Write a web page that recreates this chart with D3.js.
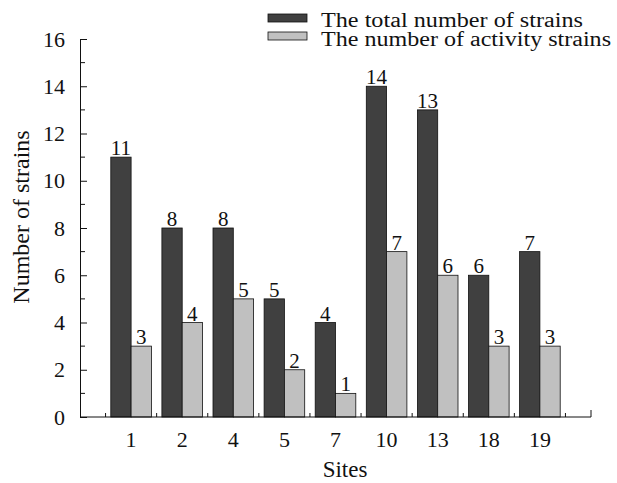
<!DOCTYPE html>
<html>
<head>
<meta charset="utf-8">
<script src="https://cdn.jsdelivr.net/npm/d3@7"></script>
<style>
  body { margin: 0; background: #fff; }
  svg, svg text { font-family: "Times New Roman", "Liberation Serif", Times, serif; }
  svg text { fill: #111; }
</style>
</head>
<body>
<script>
const sites = ["1", "2", "4", "5", "7", "10", "13", "18", "19"];
const totalStrains = [11, 8, 8, 5, 4, 14, 13, 6, 7];
const activityStrains = [3, 4, 5, 2, 1, 7, 6, 3, 3];
const seriesNames = ["The total number of strains", "The number of activity strains"];
const seriesColors = ["#404040", "#c0c0c0"];
const yTicks = [0, 2, 4, 6, 8, 10, 12, 14, 16];

const width = 617, height = 483;
const margin = {left: 80, right: 26, top: 39, bottom: 66};
const serif = "'Times New Roman', 'Liberation Serif', Times, serif";

const svg = d3.select("body").append("svg")
  .attr("width", width).attr("height", height)
  .attr("font-family", serif);

// positions 0..10 along the axis, sites sit on 1..9
const x = d3.scaleLinear().domain([0, 10]).range([margin.left, width - margin.right]);
const y = d3.scaleLinear().domain([0, 16]).range([height - margin.bottom, margin.top]);
const barW = 20.3;

const data = sites.map((s, i) => ({site: s, pos: i + 1, vals: [totalStrains[i], activityStrains[i]]}));

const groups = svg.append("g").selectAll("g").data(data).enter().append("g");

groups.selectAll("rect").data(d => d.vals.map((v, k) => ({pos: d.pos, v: v, k: k})))
  .enter().append("rect")
  .attr("x", d => x(d.pos) - barW + d.k * barW)
  .attr("y", d => y(d.v))
  .attr("width", barW)
  .attr("height", d => y(0) - y(d.v))
  .attr("fill", d => seriesColors[d.k])
  .attr("stroke", "#111").attr("stroke-width", 0.8);

groups.selectAll("text").data(d => d.vals.map((v, k) => ({pos: d.pos, v: v, k: k})))
  .enter().append("text")
  .attr("x", d => x(d.pos) - barW / 2 + d.k * barW)
  .attr("y", d => y(d.v) - 2)
  .attr("text-anchor", "middle")
  .attr("font-size", 21)
  .text(d => d.v);

// y axis
const yAxis = d3.axisLeft(y).tickValues(yTicks).tickSize(-7).tickPadding(15);
const gy = svg.append("g").attr("transform", `translate(${margin.left},0)`).call(yAxis)
  .attr("font-family", serif).attr("font-size", 22);
gy.select(".domain").attr("stroke", "#111");
gy.selectAll(".tick line").attr("stroke", "#111");
const minor = d3.range(1, 16, 2);
gy.selectAll(".minor").data(minor).enter().append("line")
  .attr("x1", 0).attr("x2", 5)
  .attr("y1", d => y(d)).attr("y2", d => y(d))
  .attr("stroke", "#111");

// x axis
const gx = svg.append("g").attr("transform", `translate(0,${y(0)})`);
gx.append("line").attr("x1", x(0)).attr("x2", x(10)).attr("stroke", "#111");
const xTicks = d3.range(0.5, 10, 1);
gx.selectAll(".xt").data(xTicks).enter().append("line")
  .attr("x1", d => x(d)).attr("x2", d => x(d))
  .attr("y1", 0).attr("y2", -4).attr("stroke", "#111");
gx.append("line").attr("x1", x(10)).attr("x2", x(10))
  .attr("y1", 0).attr("y2", -7).attr("stroke", "#111");
gx.selectAll(".xl").data(data).enter().append("text")
  .attr("x", d => x(d.pos)).attr("y", 30)
  .attr("text-anchor", "middle").attr("font-size", 22)
  .text(d => d.site);

// axis titles
svg.append("text").attr("x", 345).attr("y", 477)
  .attr("text-anchor", "middle").attr("font-size", 23).text("Sites");
svg.append("text")
  .attr("transform", "translate(29,217) rotate(-90)")
  .attr("text-anchor", "middle").attr("font-size", 24).text("Number of strains");

// legend
const legendLen = [262, 290];
const legend = svg.append("g").attr("transform", "translate(268,14)");
seriesNames.forEach((name, i) => {
  legend.append("rect").attr("x", 0).attr("y", i * 18)
    .attr("width", 39).attr("height", 8)
    .attr("fill", seriesColors[i]).attr("stroke", "#111").attr("stroke-width", 0.8);
  legend.append("text").attr("x", 53).attr("y", i * 19 + 13)
    .attr("font-size", 20)
    .attr("textLength", legendLen[i]).attr("lengthAdjust", "spacingAndGlyphs")
    .text(name);
});
</script>
</body>
</html>
